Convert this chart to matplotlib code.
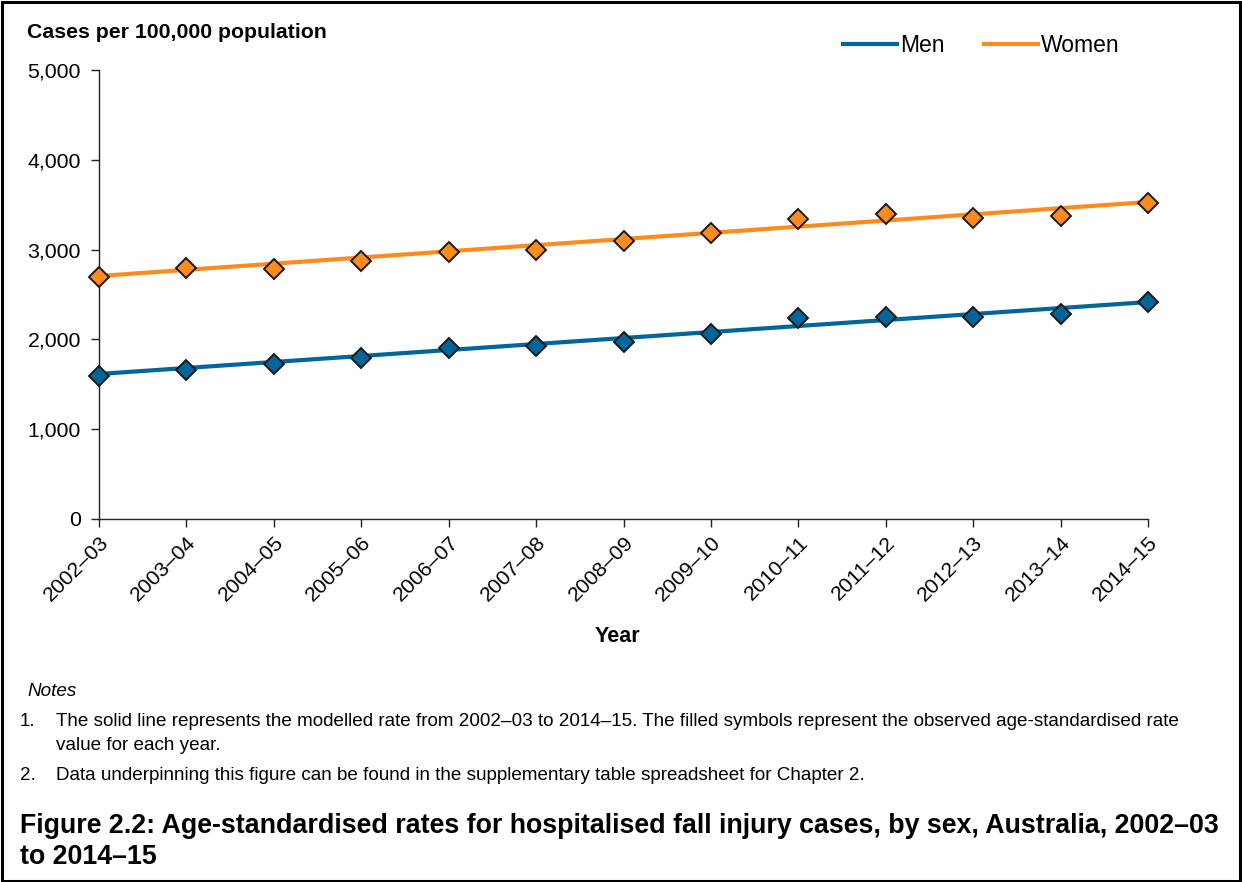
import matplotlib
matplotlib.use("Agg")
import matplotlib.pyplot as plt
from matplotlib.patches import Rectangle
from matplotlib.lines import Line2D

plt.rcParams['font.family'] = ['Liberation Sans', 'DejaVu Sans']

years = ["2002–03", "2003–04", "2004–05", "2005–06", "2006–07", "2007–08", "2008–09",
         "2009–10", "2010–11", "2011–12", "2012–13", "2013–14", "2014–15"]
men_observed = [1592, 1659, 1726, 1796, 1901, 1927, 1971, 2057, 2235, 2246, 2253, 2283, 2416]
women_observed = [2698, 2792, 2787, 2870, 2973, 2996, 3096, 3182, 3341, 3396, 3352, 3378, 3522]
# modelled (trend) rate at first and last year
men_model = [1615, 2416]
women_model = [2706, 3530]
yticks = [0, 1000, 2000, 3000, 4000, 5000]

men_color = "#00659A"
women_color = "#FF8B1F"

W, H = 1242, 882
fig = plt.figure(figsize=(W / 100, H / 100), dpi=100)
ax = fig.add_axes([99 / W, 1 - 519 / H, (1148 - 99) / W, (519 - 70) / H])

x = list(range(len(years)))
model_x = [x[0], x[-1]]
ax.plot(model_x, men_model, color=men_color, lw=3, solid_capstyle='butt', zorder=2)
ax.plot(model_x, women_model, color=women_color, lw=3, solid_capstyle='butt', zorder=2)
ax.plot(x, men_observed, ls='none', marker='D', ms=10, mfc=men_color, mec='#1a1a1a', mew=1.4, zorder=3, clip_on=False)
ax.plot(x, women_observed, ls='none', marker='D', ms=10, mfc=women_color, mec='#1a1a1a', mew=1.4, zorder=3, clip_on=False)

ax.set_xlim(0, len(years) - 1)
ax.set_ylim(0, 5000)
ax.set_yticks(yticks)
ax.set_yticklabels([f"{v:,}" for v in yticks], fontsize=15.3)
ax.set_xticks(x)
ax.set_xticklabels(years, rotation=45, ha='right', rotation_mode='anchor', fontsize=15.3)
for s in ['top', 'right']:
    ax.spines[s].set_visible(False)
for s in ['left', 'bottom']:
    ax.spines[s].set_linewidth(1.0)
    ax.spines[s].set_color('#222222')
ax.tick_params(axis='both', direction='out', length=6, width=1, color='#222222', pad=7)
ax.tick_params(axis='x', pad=4)

fig.text(27 / W, 1 - 33 / H, "Cases per 100,000 population", fontsize=15.3, fontweight='bold', va='center', ha='left')
fig.text(617 / W, 1 - 637 / H, "Year", fontsize=15.5, fontweight='bold', va='center', ha='center')

handles = [Line2D([], [], color=men_color, lw=3), Line2D([], [], color=women_color, lw=3)]
fig.legend(handles, ["Men", "Women"], loc='center left', bbox_to_anchor=(843 / W, 1 - 46 / H),
           ncol=2, frameon=False, fontsize=16.5, handlelength=2.35, handletextpad=0.15,
           columnspacing=1.7, borderaxespad=0, borderpad=0)

nfs = 13.6
fig.text(27 / W, 1 - 691 / H, "Notes", fontsize=nfs, style='italic', va='center', ha='left')
fig.text(20 / W, 1 - 721 / H, "1.", fontsize=nfs, va='center', ha='left')
fig.text(56 / W, 1 - 721 / H, "The solid line represents the modelled rate from 2002–03 to 2014–15. The filled symbols represent the observed age-standardised rate",
         fontsize=nfs, va='center', ha='left')
fig.text(56 / W, 1 - 746 / H, "value for each year.", fontsize=nfs, va='center', ha='left')
fig.text(20 / W, 1 - 776 / H, "2.", fontsize=nfs, va='center', ha='left')
fig.text(56 / W, 1 - 776 / H, "Data underpinning this figure can be found in the supplementary table spreadsheet for Chapter 2.",
         fontsize=nfs, va='center', ha='left')

fig.text(20 / W, 1 - 826 / H, "Figure 2.2: Age-standardised rates for hospitalised fall injury cases, by sex, Australia, 2002–03",
         fontsize=19.3, fontweight='bold', va='center', ha='left')
fig.text(20 / W, 1 - 857 / H, "to 2014–15", fontsize=19.3, fontweight='bold', va='center', ha='left')

fig.add_artist(Rectangle((1.5 / W, 1.5 / H), 1 - 4 / W, 1 - 3 / H, transform=fig.transFigure,
                         fill=False, edgecolor='black', linewidth=2.2))

fig.savefig("out.png", dpi=100)
